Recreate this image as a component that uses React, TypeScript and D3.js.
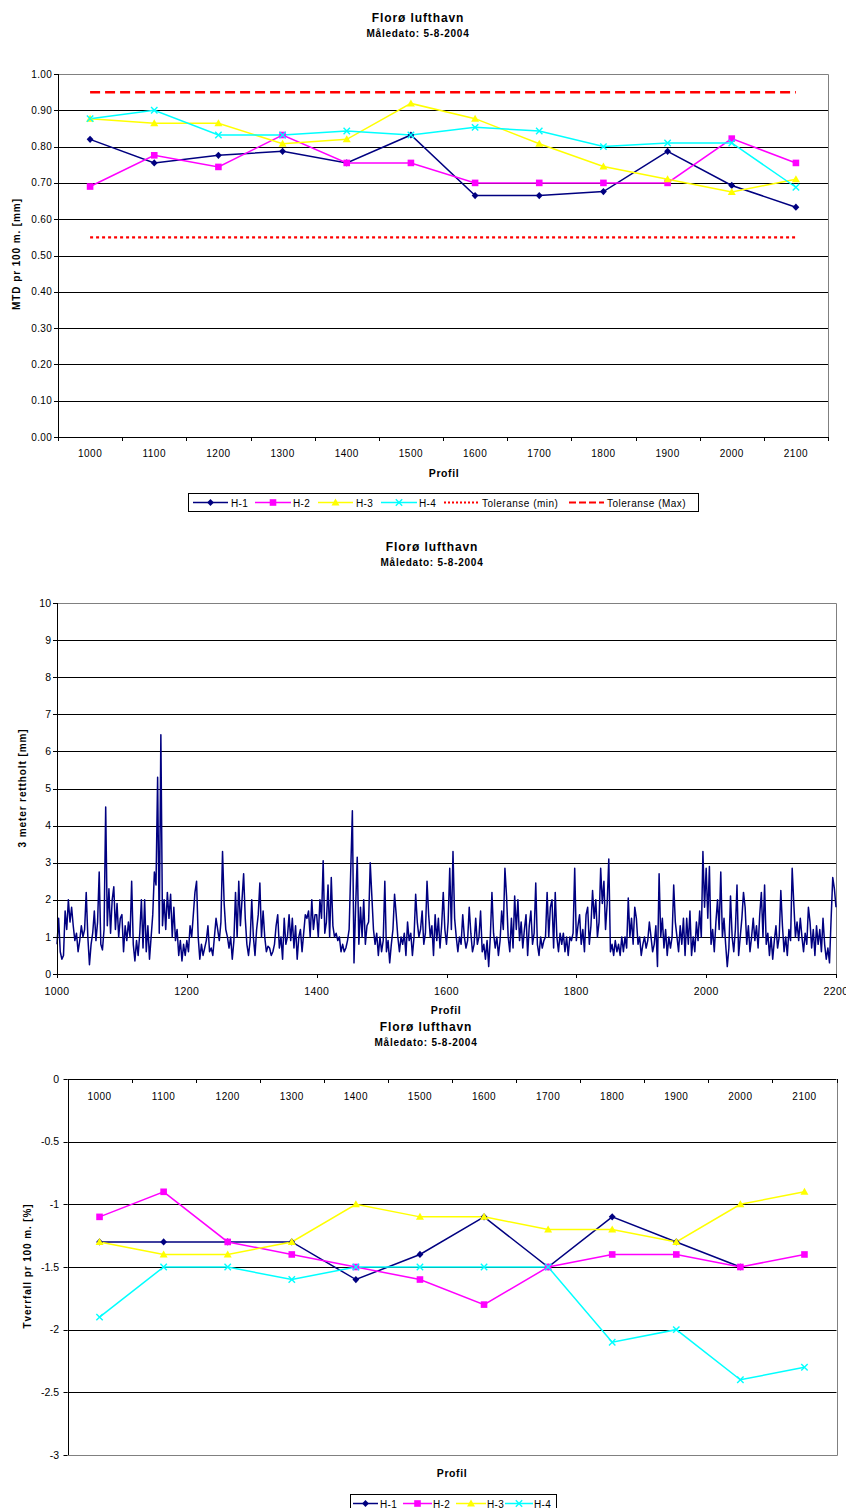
import React from "react";
import * as d3 from "d3";

const FONT = "'Liberation Sans', Arial, Helvetica, sans-serif";
const NAVY = "#000080";
const MAGENTA = "#FF00FF";
const YELLOW = "#FFFF00";
const CYAN = "#00FFFF";
const RED = "#FF0000";
const BORDER = "#808080";

const stedsnavn = "Florø lufthavn";
const maaledato = "Måledato: 5-8-2004";

// Profiles along the runway (category axis of the MTD and cross-fall charts)
const profiler = ["1000", "1100", "1200", "1300", "1400", "1500", "1600", "1700", "1800", "1900", "2000", "2100"];

// MTD per 100 m [mm]
const mtdH1 = [0.82, 0.755, 0.776, 0.787, 0.755, 0.832, 0.665, 0.665, 0.676, 0.787, 0.693, 0.633];
const mtdH2 = [0.69, 0.776, 0.744, 0.832, 0.755, 0.755, 0.7, 0.7, 0.7, 0.7, 0.822, 0.755];
const mtdH3 = [0.877, 0.864, 0.864, 0.808, 0.82, 0.919, 0.877, 0.808, 0.745, 0.71, 0.675, 0.71];
const mtdH4 = [0.877, 0.9, 0.832, 0.832, 0.843, 0.832, 0.853, 0.843, 0.8, 0.81, 0.81, 0.688];
const toleranseMin = 0.55;
const toleranseMax = 0.95;
const mtdTicks = [0, 0.1, 0.2, 0.3, 0.4, 0.5, 0.6, 0.7, 0.8, 0.9, 1.0];

// 3 m straightedge [mm], one reading every 2.5 m, 100 m per block
const rettholtStart = 1000;
const rettholtSteg = 2.5;
const rettholt1000 = [
  0.8, 1.5, 0.6, 0.4, 0.5, 1.7, 1.2, 2.0, 1.4, 1.8,
  1.3, 0.9, 1.1, 0.6, 0.9, 1.3, 1.0, 1.2, 2.2, 1.0,
  0.25, 0.8, 1.1, 1.7, 0.9, 1.4, 2.75, 0.8, 0.65, 1.2,
  4.5, 1.3, 2.3, 1.1, 2.0, 2.35, 1.2, 1.9, 1.0, 1.5,
];
const rettholt1100 = [
  1.6, 0.6, 1.3, 0.9, 1.4, 1.0, 2.5, 0.8, 0.35, 0.9,
  0.5, 1.1, 2.0, 0.7, 2.0, 0.6, 1.3, 0.4, 1.0, 1.6,
  2.75, 2.4, 5.3, 1.1, 6.45, 1.3, 2.0, 1.2, 2.2, 1.5,
  2.15, 1.0, 1.8, 0.9, 1.2, 0.5, 0.9, 0.35, 0.8, 0.5,
];
const rettholt1200 = [
  0.9, 0.6, 1.3, 1.0, 1.6, 2.2, 2.5, 1.0, 0.4, 0.8,
  0.5, 0.7, 0.9, 1.3, 0.6, 0.7, 0.5, 1.0, 1.5, 1.2,
  0.9, 1.4, 3.3, 1.9, 1.2, 1.0, 0.7, 1.0, 0.4, 0.9,
  2.2, 1.0, 2.5, 1.3, 2.0, 2.7, 1.5, 0.8, 0.5, 0.9,
];
const rettholt1300 = [
  2.0, 1.0, 0.5, 1.2, 1.6, 2.45, 1.0, 1.7, 1.0, 0.6,
  0.75, 0.7, 0.5, 0.6, 0.8, 1.3, 1.6, 0.7, 1.0, 0.4,
  1.5, 0.8, 1.0, 1.6, 0.9, 1.5, 0.7, 1.3, 0.4, 1.0,
  1.2, 0.6, 1.1, 1.6, 1.5, 1.7, 1.0, 2.0, 1.2, 1.6,
];
const rettholt1400 = [
  1.6, 1.0, 2.0, 1.5, 3.05, 1.1, 1.4, 2.4, 1.0, 2.6,
  1.3, 1.0, 1.1, 0.9, 1.0, 0.6, 0.8, 0.6, 0.7, 0.9,
  1.2, 2.8, 4.4, 0.3, 1.8, 3.15, 0.8, 1.8, 1.0, 2.0,
  0.8, 1.3, 1.4, 3.0, 2.1, 1.2, 0.8, 1.1, 0.5, 1.0,
];
const rettholt1500 = [
  0.6, 0.9, 2.5, 0.6, 0.9, 0.3, 0.8, 1.2, 2.15, 1.6,
  1.0, 0.6, 1.0, 0.8, 1.1, 0.5, 1.4, 0.9, 1.1, 0.5,
  1.0, 2.15, 1.4, 1.0, 1.2, 1.7, 0.8, 1.1, 2.5, 1.6,
  1.0, 1.3, 0.5, 1.6, 0.9, 1.5, 0.7, 1.3, 2.2, 1.2,
];
const rettholt1600 = [
  0.8, 1.4, 2.85, 1.2, 3.3, 1.5, 1.0, 0.6, 1.0, 0.8,
  1.6, 1.0, 0.7, 0.9, 1.8, 1.1, 0.6, 0.8, 1.5, 0.8,
  1.0, 1.7, 0.6, 0.8, 0.4, 0.9, 0.2, 1.0, 2.2, 1.1,
  0.7, 1.0, 0.5, 0.9, 1.7, 1.2, 2.85, 2.1, 1.0, 0.6,
];
const rettholt1700 = [
  1.5, 0.7, 2.1, 1.2, 2.0, 0.9, 1.4, 0.7, 1.2, 1.6,
  0.5, 1.3, 1.7, 0.8, 1.1, 2.45, 0.8, 0.5, 1.0, 0.7,
  0.9, 1.0, 2.2, 1.0, 1.8, 2.0, 0.7, 2.2, 1.0, 0.6,
  1.1, 0.8, 1.1, 0.6, 1.0, 0.5, 1.0, 0.9, 1.1, 2.85,
];
const rettholt1800 = [
  0.9, 1.3, 1.6, 0.8, 1.2, 0.6, 1.6, 1.8, 0.8, 1.3,
  2.25, 1.5, 2.0, 1.0, 1.4, 2.85, 1.9, 2.5, 1.2, 1.9,
  3.1, 0.6, 0.8, 0.5, 0.9, 0.6, 0.8, 0.5, 1.0, 0.6,
  1.0, 0.7, 2.05, 1.0, 1.5, 0.8, 1.8, 1.5, 0.8, 1.0,
];
const rettholt1900 = [
  0.5, 0.8, 1.0, 0.7, 0.9, 1.4, 1.0, 0.6, 0.8, 1.3,
  0.2, 2.7, 1.0, 1.5, 0.7, 1.2, 0.5, 1.0, 0.7, 1.0,
  2.4, 1.4, 1.0, 0.6, 1.3, 0.8, 1.5, 0.5, 1.5, 0.8,
  1.7, 0.5, 1.0, 0.6, 1.4, 0.9, 1.7, 1.0, 3.3, 1.8,
];
const rettholt2000 = [
  2.85, 1.5, 2.9, 0.8, 1.2, 0.6, 1.4, 2.0, 1.2, 2.75,
  1.0, 1.5, 0.8, 0.2, 0.7, 2.1, 1.0, 0.6, 1.2, 2.4,
  0.5, 1.0, 1.5, 2.2, 1.8, 0.8, 1.3, 0.6, 1.0, 1.5,
  0.9, 1.3, 0.7, 1.6, 2.2, 1.0, 2.4, 0.8, 1.1, 0.5,
];
const rettholt2100 = [
  1.0, 0.4, 0.9, 1.3, 0.7, 1.0, 2.25, 1.3, 0.6, 1.0,
  0.5, 1.2, 0.9, 2.85, 1.9, 1.0, 1.4, 0.9, 1.5, 1.0,
  0.6, 1.1, 0.8, 1.8, 1.4, 0.7, 1.2, 0.5, 1.3, 0.8,
  1.2, 0.6, 1.5, 0.8, 0.4, 0.7, 0.3, 1.5, 2.6, 2.3,
  1.8,
];
const rettholtTicks = [0, 1, 2, 3, 4, 5, 6, 7, 8, 9, 10];
const rettholtProfilTicks = [1000, 1200, 1400, 1600, 1800, 2000, 2200];

// Cross-fall per 100 m [%]
const tverrH1: (number | null)[] = [-1.3, -1.3, -1.3, -1.3, -1.6, -1.4, -1.1, -1.5, -1.1, -1.3, -1.5, null];
const tverrH2 = [-1.1, -0.9, -1.3, -1.4, -1.5, -1.6, -1.8, -1.5, -1.4, -1.4, -1.5, -1.4];
const tverrH3 = [-1.3, -1.4, -1.4, -1.3, -1.0, -1.1, -1.1, -1.2, -1.2, -1.3, -1.0, -0.9];
const tverrH4 = [-1.9, -1.5, -1.5, -1.6, -1.5, -1.5, -1.5, -1.5, -2.1, -2.0, -2.4, -2.3];
const tverrTicks = [0, -0.5, -1, -1.5, -2, -2.5, -3];

type MarkerKind = "diamond" | "square" | "triangle" | "cross";

const serieStil: { name: string; color: string; marker: MarkerKind }[] = [
  { name: "H-1", color: NAVY, marker: "diamond" },
  { name: "H-2", color: MAGENTA, marker: "square" },
  { name: "H-3", color: YELLOW, marker: "triangle" },
  { name: "H-4", color: CYAN, marker: "cross" },
];

function Marker({ kind, x, y, color }: { kind: MarkerKind; x: number; y: number; color: string }) {
  if (kind === "diamond") {
    return <path d={`M${x},${y - 3.6}L${x + 3.4},${y}L${x},${y + 3.6}L${x - 3.4},${y}Z`} fill={color} />;
  }
  if (kind === "square") {
    return <rect x={x - 3.3} y={y - 3.3} width={6.6} height={6.6} fill={color} />;
  }
  if (kind === "triangle") {
    return <path d={`M${x},${y - 4}L${x + 4},${y + 3}L${x - 4},${y + 3}Z`} fill={color} />;
  }
  return (
    <path
      d={`M${x - 3.2},${y - 3.2}L${x + 3.2},${y + 3.2}M${x - 3.2},${y + 3.2}L${x + 3.2},${y - 3.2}`}
      stroke={color}
      strokeWidth={1.4}
      fill="none"
    />
  );
}

const crisp = (v: number) => Math.round(v) + 0.5;

function Titles({ cx, y }: { cx: number; y: number }) {
  return (
    <g textAnchor="middle" fontWeight="bold" fill="#000">
      <text x={cx} y={y} fontSize={12} letterSpacing={0.9}>
        {stedsnavn}
      </text>
      <text x={cx} y={y + 15.5} fontSize={10} letterSpacing={0.75}>
        {maaledato}
      </text>
    </g>
  );
}

function MtdChart() {
  const left = 58, right = 828, top = 74, bottom = 437;
  const x = d3.scaleBand<string>().domain(profiler).range([left, right]);
  const cx = (i: number) => (x(profiler[i]) as number) + x.bandwidth() / 2;
  const y = d3.scaleLinear().domain([0, 1]).range([bottom, top]);
  const line = d3
    .line<number>()
    .x((_, i) => cx(i))
    .y((d) => y(d));
  const series = [mtdH1, mtdH2, mtdH3, mtdH4];
  const fmt = d3.format(".2f");
  const bounds = profiler.map((p) => x(p) as number).concat([right]);

  return (
    <g>
      <Titles cx={418} y={21.5} />
      {/* grid */}
      {mtdTicks
        .filter((t) => t > 0 && t < 1)
        .map((t) => (
          <line key={t} x1={left} x2={right} y1={crisp(y(t))} y2={crisp(y(t))} stroke="#000" strokeWidth={1} />
        ))}
      {/* plot border */}
      <path d={`M${left},${crisp(top)}H${crisp(right)}V${bottom}`} fill="none" stroke={BORDER} strokeWidth={1} />
      {/* axes */}
      <line x1={crisp(left)} x2={crisp(left)} y1={top} y2={bottom + 0.5} stroke="#000" />
      <line x1={left} x2={right} y1={crisp(bottom)} y2={crisp(bottom)} stroke="#000" />
      {mtdTicks.map((t) => (
        <g key={t}>
          <line x1={left - 4} x2={left} y1={crisp(y(t))} y2={crisp(y(t))} stroke="#000" />
          <text x={52} y={y(t)} dy="0.35em" textAnchor="end" fontSize={10} letterSpacing={0.3}>
            {fmt(t)}
          </text>
        </g>
      ))}
      {bounds.map((b, i) => (
        <line key={i} x1={crisp(b)} x2={crisp(b)} y1={bottom} y2={bottom + 4} stroke="#000" />
      ))}
      {profiler.map((p, i) => (
        <text key={p} x={cx(i)} y={457} textAnchor="middle" fontSize={10} letterSpacing={0.5}>
          {p}
        </text>
      ))}
      <text x={444} y={477} textAnchor="middle" fontSize={10.5} fontWeight="bold" letterSpacing={0.6}>
        Profil
      </text>
      <text
        transform={`translate(19.5,254) rotate(-90)`}
        textAnchor="middle"
        fontSize={10}
        fontWeight="bold"
        letterSpacing={0.9}
      >
        MTD pr 100 m. [mm]
      </text>
      {/* tolerance lines */}
      <line x1={cx(0)} x2={cx(11)} y1={y(toleranseMax)} y2={y(toleranseMax)} stroke={RED} strokeWidth={2.5} strokeDasharray="10,5" />
      <line x1={cx(0)} x2={cx(11)} y1={y(toleranseMin)} y2={y(toleranseMin)} stroke={RED} strokeWidth={2.2} strokeDasharray="3,3" />
      {/* series */}
      {series.map((s, k) => (
        <path key={k} d={line(s) as string} fill="none" stroke={serieStil[k].color} strokeWidth={1.5} />
      ))}
      {series.map((s, k) => (
        <g key={k}>
          {s.map((v, i) => (
            <Marker key={i} kind={serieStil[k].marker} x={cx(i)} y={y(v)} color={serieStil[k].color} />
          ))}
        </g>
      ))}
      {/* legend */}
      <rect x={188.5} y={493.5} width={510} height={18} fill="#fff" stroke="#000" />
      {[
        { x1: 193, x2: 228, tx: 231 },
        { x1: 255, x2: 291, tx: 293 },
        { x1: 318, x2: 353, tx: 356 },
        { x1: 381, x2: 417, tx: 419 },
      ].map((l, k) => (
        <g key={k}>
          <line x1={l.x1} x2={l.x2} y1={502.5} y2={502.5} stroke={serieStil[k].color} strokeWidth={1.5} />
          <Marker kind={serieStil[k].marker} x={(l.x1 + l.x2) / 2} y={502.5} color={serieStil[k].color} />
          <text x={l.tx} y={506.5} fontSize={10} letterSpacing={0.4}>
            {serieStil[k].name}
          </text>
        </g>
      ))}
      <line x1={444} x2={480} y1={502.5} y2={502.5} stroke={RED} strokeWidth={2} strokeDasharray="2,2" />
      <text x={482} y={506.5} fontSize={10} letterSpacing={0.5}>
        Toleranse (min)
      </text>
      <line x1={569} x2={604} y1={502.5} y2={502.5} stroke={RED} strokeWidth={2} strokeDasharray="7,3" />
      <text x={607} y={506.5} fontSize={10} letterSpacing={0.5}>
        Toleranse (Max)
      </text>
    </g>
  );
}

function RettholtChart() {
  const left = 57, right = 836, top = 603, bottom = 974;
  const values = [
    ...rettholt1000, ...rettholt1100, ...rettholt1200, ...rettholt1300,
    ...rettholt1400, ...rettholt1500, ...rettholt1600, ...rettholt1700,
    ...rettholt1800, ...rettholt1900, ...rettholt2000, ...rettholt2100,
  ];
  const x = d3.scaleLinear().domain([1000, 2200]).range([left, right]);
  const y = d3.scaleLinear().domain([0, 10]).range([bottom, top]);
  const line = d3
    .line<number>()
    .x((_, i) => x(rettholtStart + i * rettholtSteg))
    .y((d) => y(d));

  return (
    <g>
      <Titles cx={432} y={550.5} />
      {rettholtTicks
        .filter((t) => t > 0 && t < 10)
        .map((t) => (
          <line key={t} x1={left} x2={right} y1={crisp(y(t))} y2={crisp(y(t))} stroke="#000" />
        ))}
      <path d={`M${left},${crisp(top)}H${crisp(right)}V${bottom}`} fill="none" stroke={BORDER} />
      <path d={line(values) as string} fill="none" stroke={NAVY} strokeWidth={1.5} strokeLinejoin="round" />
      <line x1={crisp(left)} x2={crisp(left)} y1={top} y2={bottom + 0.5} stroke="#000" />
      <line x1={left} x2={right} y1={crisp(bottom)} y2={crisp(bottom)} stroke="#000" />
      {rettholtTicks.map((t) => (
        <g key={t}>
          <line x1={left - 4} x2={left} y1={crisp(y(t))} y2={crisp(y(t))} stroke="#000" />
          <text x={51} y={y(t)} dy="0.35em" textAnchor="end" fontSize={10.5}>
            {t}
          </text>
        </g>
      ))}
      {rettholtProfilTicks.map((t) => (
        <g key={t}>
          <line x1={crisp(x(t))} x2={crisp(x(t))} y1={bottom} y2={bottom + 4} stroke="#000" />
          <text x={x(t)} y={995} textAnchor="middle" fontSize={10.5} letterSpacing={0.4}>
            {t}
          </text>
        </g>
      ))}
      <text x={446} y={1014} textAnchor="middle" fontSize={10.5} fontWeight="bold" letterSpacing={0.6}>
        Profil
      </text>
      <text
        transform={`translate(25.5,788) rotate(-90)`}
        textAnchor="middle"
        fontSize={10}
        fontWeight="bold"
        letterSpacing={0.9}
      >
        3 meter rettholt [mm]
      </text>
    </g>
  );
}

function TverrfallChart() {
  const left = 67.5, right = 836.5, top = 1079, bottom = 1455;
  const x = d3.scaleBand<string>().domain(profiler).range([left, right]);
  const cx = (i: number) => (x(profiler[i]) as number) + x.bandwidth() / 2;
  const y = d3.scaleLinear().domain([-3, 0]).range([bottom, top]);
  const line = d3
    .line<number | null>()
    .defined((d) => d != null)
    .x((_, i) => cx(i))
    .y((d) => y(d as number));
  const series: (number | null)[][] = [tverrH1, tverrH2, tverrH3, tverrH4];
  const bounds = profiler.map((p) => x(p) as number).concat([right]);

  return (
    <g>
      <Titles cx={426} y={1030.5} />
      {tverrTicks
        .filter((t) => t < 0 && t > -3)
        .map((t) => (
          <line key={t} x1={left} x2={right} y1={crisp(y(t))} y2={crisp(y(t))} stroke="#000" />
        ))}
      <path d={`M${crisp(right)},${top}V${crisp(bottom)}H${left}`} fill="none" stroke={BORDER} />
      <line x1={crisp(left)} x2={crisp(left)} y1={top} y2={bottom} stroke="#000" />
      <line x1={left} x2={right} y1={crisp(top)} y2={crisp(top)} stroke="#000" />
      {tverrTicks.map((t) => (
        <g key={t}>
          <line x1={left - 4} x2={left} y1={crisp(y(t))} y2={crisp(y(t))} stroke="#000" />
          <text x={59} y={y(t)} dy="0.35em" textAnchor="end" fontSize={10.5}>
            {String(t)}
          </text>
        </g>
      ))}
      {bounds.map((b, i) => (
        <line key={i} x1={crisp(b)} x2={crisp(b)} y1={top} y2={top + 4} stroke="#000" />
      ))}
      {profiler.map((p, i) => (
        <text key={p} x={cx(i)} y={1099.5} textAnchor="middle" fontSize={10} letterSpacing={0.5}>
          {p}
        </text>
      ))}
      <text x={452} y={1477} textAnchor="middle" fontSize={10.5} fontWeight="bold" letterSpacing={0.6}>
        Profil
      </text>
      <text
        transform={`translate(30.5,1266) rotate(-90)`}
        textAnchor="middle"
        fontSize={10}
        fontWeight="bold"
        letterSpacing={0.9}
      >
        Tverrfall pr 100 m. [%]
      </text>
      {series.map((s, k) => (
        <path key={k} d={line(s) as string} fill="none" stroke={serieStil[k].color} strokeWidth={1.5} />
      ))}
      {series.map((s, k) => (
        <g key={k}>
          {s.map((v, i) =>
            v == null ? null : (
              <Marker key={i} kind={serieStil[k].marker} x={cx(i)} y={y(v)} color={serieStil[k].color} />
            )
          )}
        </g>
      ))}
      <rect x={350.5} y={1494.5} width={206} height={18} fill="#fff" stroke="#000" />
      {[
        { x1: 353, x2: 378, tx: 380 },
        { x1: 403, x2: 432, tx: 433 },
        { x1: 456, x2: 486, tx: 487 },
        { x1: 505, x2: 533, tx: 534 },
      ].map((l, k) => (
        <g key={k}>
          <line x1={l.x1} x2={l.x2} y1={1503.5} y2={1503.5} stroke={serieStil[k].color} strokeWidth={1.5} />
          <Marker kind={serieStil[k].marker} x={(l.x1 + l.x2) / 2} y={1503.5} color={serieStil[k].color} />
          <text x={l.tx} y={1507.5} fontSize={10} letterSpacing={0.3}>
            {serieStil[k].name}
          </text>
        </g>
      ))}
    </g>
  );
}

export default function App() {
  return (
    <svg
      width={846}
      height={1508}
      viewBox="0 0 846 1508"
      style={{ position: "absolute", left: 0, top: 0, background: "#fff" }}
      fontFamily={FONT}
    >
      <rect width={846} height={1508} fill="#fff" />
      <MtdChart />
      <RettholtChart />
      <TverrfallChart />
    </svg>
  );
}
